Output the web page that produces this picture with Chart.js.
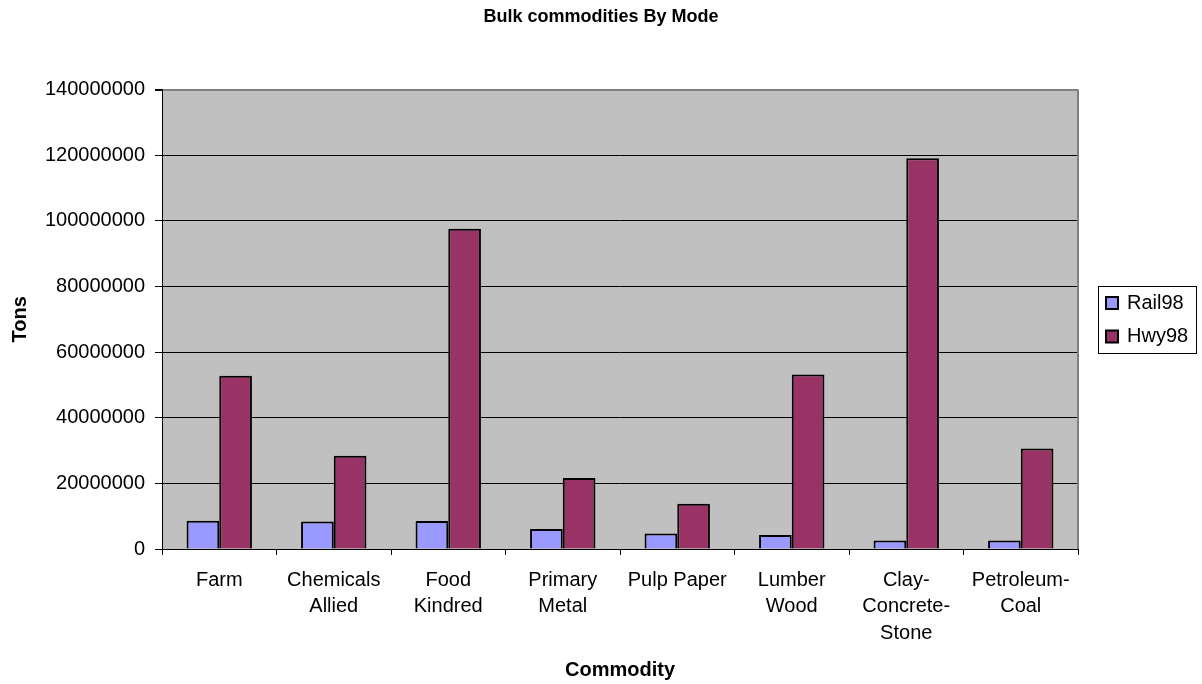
<!DOCTYPE html>
<html>
<head>
<meta charset="utf-8">
<title>Bulk commodities By Mode</title>
<script src="https://cdn.jsdelivr.net/npm/chart.js@4.4.1/dist/chart.umd.min.js"></script>
<style>
  body { margin: 0; background: #fff; }
  #wrap { width: 1202px; height: 684px; }
</style>
</head>
<body>
<div id="wrap"><canvas id="modeChart" width="1202" height="684"></canvas></div>
<script>
// Categorías y toneladas por modo (1998)
const commodities = [
    'Farm',
    ['Chemicals', 'Allied'],
    ['Food', 'Kindred'],
    ['Primary', 'Metal'],
    'Pulp Paper',
    ['Lumber', 'Wood'],
    ['Clay-', 'Concrete-', 'Stone'],
    ['Petroleum-', 'Coal']
];
const rail98 = [8600000, 8400000, 8500000, 6100000, 4700000, 4300000, 2600000, 2600000];
const hwy98 = [52800000, 28400000, 97600000, 21600000, 13800000, 53200000, 119100000, 30600000];

// Escala del eje Y
const yMin = 0;
const yMax = 140000000;
const yStep = 20000000;

const FONT = '"Liberation Sans", Arial, sans-serif';

// Fondo gris del área de trazado y borde derecho
const plotBackground = {
    id: 'plotBackground',
    beforeDraw(chart) {
        const { ctx, chartArea: a } = chart;
        ctx.save();
        ctx.fillStyle = '#C0C0C0';
        ctx.fillRect(a.left, a.top, a.right - a.left, a.bottom - a.top);
        ctx.restore();
    },
    afterDraw(chart) {
        const { ctx, chartArea: a } = chart;
        ctx.save();
        ctx.strokeStyle = '#808080';
        ctx.lineWidth = 2;
        ctx.beginPath();
        ctx.moveTo(a.right, a.top);
        ctx.lineTo(a.right, a.bottom);
        ctx.stroke();
        ctx.restore();
    }
};

// Leyenda con recuadro, a la derecha del gráfico
const boxLegend = {
    id: 'boxLegend',
    afterDraw(chart) {
        const { ctx } = chart;
        const x = chart.chartArea.right + 20;
        const y = 286;
        const w = 98;
        const rowH = 33.5;
        const h = rowH * chart.data.datasets.length;
        ctx.save();
        ctx.fillStyle = '#fff';
        ctx.fillRect(x, y, w, h);
        ctx.strokeStyle = '#000';
        ctx.lineWidth = 1;
        ctx.strokeRect(x + 0.5, y + 0.5, w, h);
        ctx.font = '20px ' + FONT;
        ctx.textBaseline = 'middle';
        chart.data.datasets.forEach((ds, i) => {
            const cy = y + 17 + i * rowH;
            ctx.fillStyle = ds.backgroundColor;
            ctx.fillRect(x + 8, cy - 6, 12, 12);
            ctx.strokeStyle = '#000';
            ctx.lineWidth = 2;
            ctx.strokeRect(x + 8, cy - 6, 12, 12);
            ctx.fillStyle = '#000';
            ctx.fillText(ds.label, x + 29, cy);
        });
        ctx.restore();
    }
};

const ctx = document.getElementById('modeChart').getContext('2d');
new Chart(ctx, {
    type: 'bar',
    data: {
        labels: commodities,
        datasets: [{
            label: 'Rail98',
            data: rail98,
            backgroundColor: '#9999FF',
            borderColor: '#000',
            borderWidth: 2
        }, {
            label: 'Hwy98',
            data: hwy98,
            backgroundColor: '#993366',
            borderColor: '#000',
            borderWidth: 2
        }]
    },
    options: {
        responsive: false,
        animation: false,
        layout: { padding: 0 },
        datasets: {
            bar: { categoryPercentage: 0.571, barPercentage: 1 }
        },
        plugins: {
            legend: { display: false },
            tooltip: { enabled: false },
            title: {
                display: true,
                text: 'Bulk commodities By Mode',
                color: '#000',
                font: { family: FONT, size: 18, weight: 'bold' },
                padding: { top: 6, bottom: 62 }
            }
        },
        scales: {
            x: {
                grid: {
                    drawOnChartArea: false,
                    tickLength: 6,
                    tickColor: '#000',
                    offset: true
                },
                border: { color: '#000', width: 1 },
                ticks: {
                    color: '#000',
                    font: { family: FONT, size: 20, lineHeight: 1.33 },
                    padding: 12,
                    autoSkip: false,
                    maxRotation: 0,
                    minRotation: 0
                },
                title: {
                    display: true,
                    text: 'Commodity',
                    color: '#000',
                    font: { family: FONT, size: 20, weight: 'bold' },
                    padding: { top: 0, bottom: 2 }
                },
                afterFit(scale) { scale.height = 135; }
            },
            y: {
                min: yMin,
                max: yMax,
                grid: {
                    color: c => (c.tick && c.tick.value === yMax) ? '#808080' : '#000',
                    lineWidth: c => (c.tick && c.tick.value === yMax) ? 2 : 1,
                    tickLength: 7,
                    tickColor: '#000'
                },
                border: { color: '#000', width: 1 },
                ticks: {
                    stepSize: yStep,
                    color: '#000',
                    font: { family: FONT, size: 20 },
                    padding: 10,
                    callback: v => String(v)
                },
                title: {
                    display: true,
                    text: 'Tons',
                    color: '#000',
                    font: { family: FONT, size: 20, weight: 'bold' },
                    padding: { top: 8, bottom: 0 }
                },
                afterFit(scale) { scale.width = 162; }
            },
            // eje vacío que reserva el hueco de la leyenda
            legendSpace: {
                type: 'linear',
                position: 'right',
                grid: { display: false },
                border: { display: false },
                ticks: { display: false },
                afterFit(scale) { scale.width = 124; }
            }
        }
    },
    plugins: [plotBackground, boxLegend]
});
</script>
</body>
</html>
